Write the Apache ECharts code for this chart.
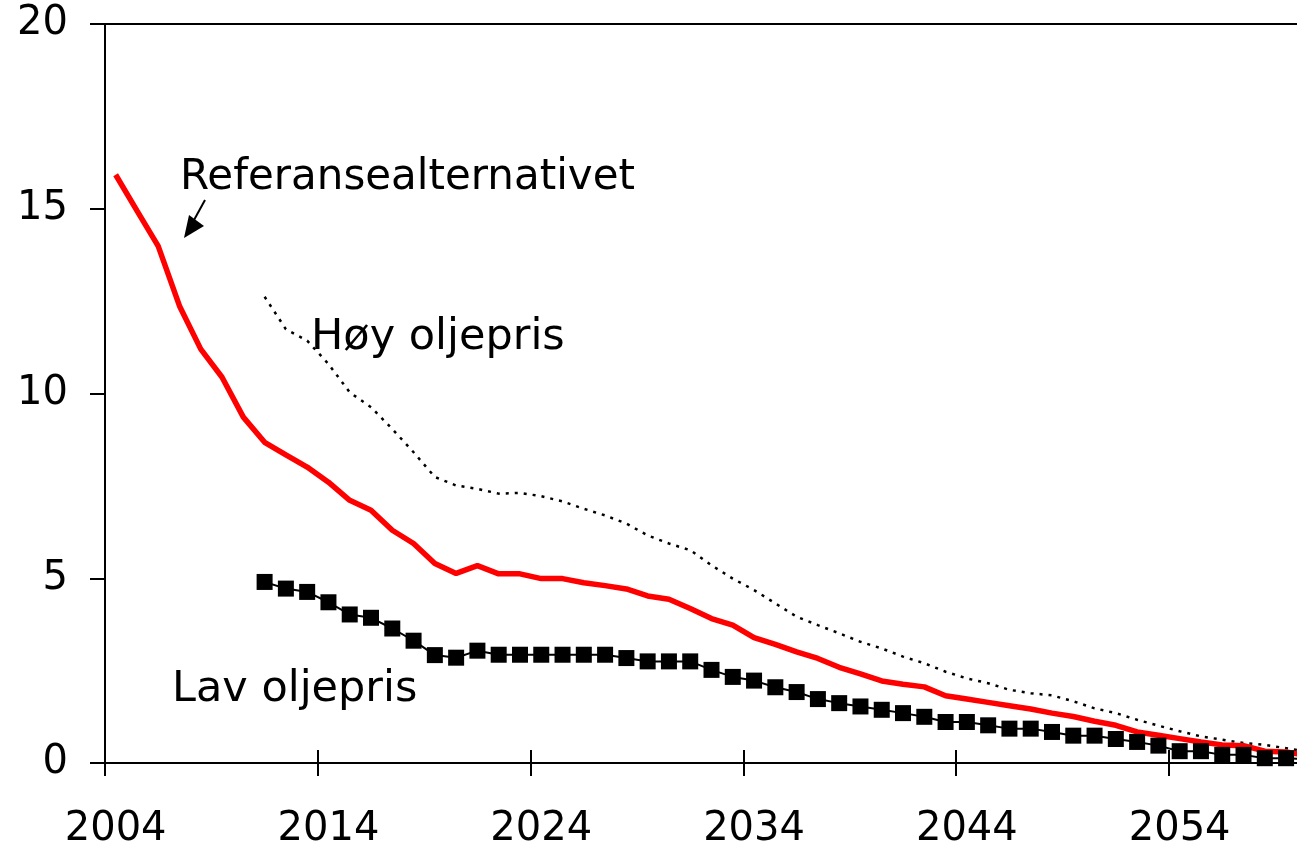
<!DOCTYPE html>
<html>
<head>
<meta charset="utf-8">
<script src="https://cdn.jsdelivr.net/npm/echarts@6/dist/echarts.min.js"></script>
<style>
  html, body { margin: 0; padding: 0; background: #fff; overflow: hidden; }
  /* plot area runs on past the right edge of the picture, as in the original */
  #chart { width: 1318px; height: 850px; }
</style>
</head>
<body>
<div id="chart"></div>
<script>
// years 2004..2060
const years = [];
for (let y = 2004; y <= 2060; y++) years.push(String(y));

const yTicks = [0, 5, 10, 15, 20];

// Referansealternativet, 2004..2060
const referanse = [
  15.92, 14.95, 13.99, 12.37, 11.2, 10.44, 9.36, 8.68, 8.34, 8.01,
  7.6, 7.11, 6.84, 6.3, 5.94, 5.4, 5.13, 5.34, 5.12, 5.12,
  4.99, 4.99, 4.88, 4.8, 4.71, 4.52, 4.43, 4.18, 3.91, 3.73,
  3.39, 3.21, 3.01, 2.83, 2.59, 2.41, 2.22, 2.13, 2.06, 1.82,
  1.73, 1.64, 1.55, 1.46, 1.35, 1.26, 1.13, 1.02, 0.84, 0.75,
  0.66, 0.57, 0.49, 0.47, 0.32, 0.3, 0.2
];

// Høy oljepris, 2004..2060 (starts 2011)
const hoy = [
  null, null, null, null, null, null, null, 12.62, 11.74, 11.43,
  10.8, 10.03, 9.63, 9.04, 8.41, 7.74, 7.51, 7.42, 7.29, 7.31,
  7.22, 7.08, 6.88, 6.7, 6.48, 6.16, 5.94, 5.76, 5.35, 4.99,
  4.68, 4.32, 3.96, 3.73, 3.51, 3.28, 3.1, 2.88, 2.7, 2.47,
  2.29, 2.16, 1.98, 1.89, 1.83, 1.67, 1.48, 1.35, 1.17, 1.01,
  0.86, 0.72, 0.63, 0.54, 0.49, 0.4, 0.3
];

// Lav oljepris, 2004..2060 (starts 2011)
const lav = [
  null, null, null, null, null, null, null, 4.9, 4.72, 4.63,
  4.35, 4.02, 3.93, 3.64, 3.31, 2.92, 2.85, 3.04, 2.93, 2.93,
  2.93, 2.93, 2.93, 2.93, 2.84, 2.75, 2.75, 2.75, 2.52, 2.33,
  2.23, 2.05, 1.92, 1.73, 1.62, 1.53, 1.44, 1.35, 1.25, 1.11,
  1.11, 1.02, 0.93, 0.93, 0.84, 0.74, 0.74, 0.65, 0.57, 0.47,
  0.32, 0.32, 0.22, 0.22, 0.13, 0.13, 0.1
];

const FONT = 'DejaVu Sans';

const chart = echarts.init(document.getElementById('chart'));
chart.setOption({
  animation: false,
  backgroundColor: '#fff',
  grid: {
    left: 105, top: 24, bottom: 84, right: 0,
    show: true, borderColor: '#000', borderWidth: 2, backgroundColor: 'transparent'
  },
  xAxis: [{
    type: 'category',
    data: years,
    boundaryGap: true,
    axisLine: { lineStyle: { color: '#000', width: 2 } },
    axisTick: { show: true, interval: 9, length: 13, lineStyle: { color: '#000', width: 2 } },
    axisLabel: { interval: 9, color: '#000', fontSize: 40, fontFamily: FONT, margin: 47 },
    splitLine: { show: false }
  }, {
    type: 'category',
    data: years,
    boundaryGap: true,
    position: 'bottom',
    axisLine: { show: false },
    axisTick: { show: true, interval: 9, inside: true, length: 13, lineStyle: { color: '#000', width: 2 } },
    axisLabel: { show: false },
    splitLine: { show: false }
  }],
  yAxis: {
    type: 'value',
    min: yTicks[0],
    max: yTicks[yTicks.length - 1],
    interval: 5,
    axisLine: { show: true, lineStyle: { color: '#000', width: 2 } },
    axisTick: { show: true, length: 15, lineStyle: { color: '#000', width: 2 } },
    axisLabel: { color: '#000', fontSize: 40, fontFamily: FONT, margin: 37 },
    splitLine: { show: false }
  },
  series: [
    {
      name: 'Høy oljepris',
      type: 'line',
      data: hoy,
      showSymbol: false,
      lineStyle: { color: '#000', width: 2.5, type: [3, 6] },
      z: 2
    },
    {
      name: 'Referansealternativet',
      type: 'line',
      data: referanse,
      showSymbol: false,
      lineStyle: { color: '#ff0000', width: 5.5 },
      z: 3
    },
    {
      name: 'Lav oljepris',
      type: 'line',
      data: lav,
      symbol: 'rect',
      symbolSize: 16,
      showAllSymbol: true,
      itemStyle: { color: '#000' },
      lineStyle: { color: '#000', width: 2 },
      z: 4
    }
  ],
  graphic: [
    { type: 'text', left: 180, top: 157,
      style: { text: 'Referansealternativet', font: '42px "DejaVu Sans"', fill: '#000' } },
    { type: 'text', left: 311, top: 316,
      style: { text: 'Høy oljepris', font: '43px "DejaVu Sans"', fill: '#000' } },
    { type: 'text', left: 172, top: 668,
      style: { text: 'Lav oljepris', font: '43px "DejaVu Sans"', fill: '#000' } },
    { type: 'line', shape: { x1: 205, y1: 200, x2: 194, y2: 220 },
      style: { stroke: '#000', lineWidth: 2 } },
    { type: 'polygon', shape: { points: [[184, 238], [189, 215], [204, 226]] },
      style: { fill: '#000' } }
  ]
});
</script>
</body>
</html>
